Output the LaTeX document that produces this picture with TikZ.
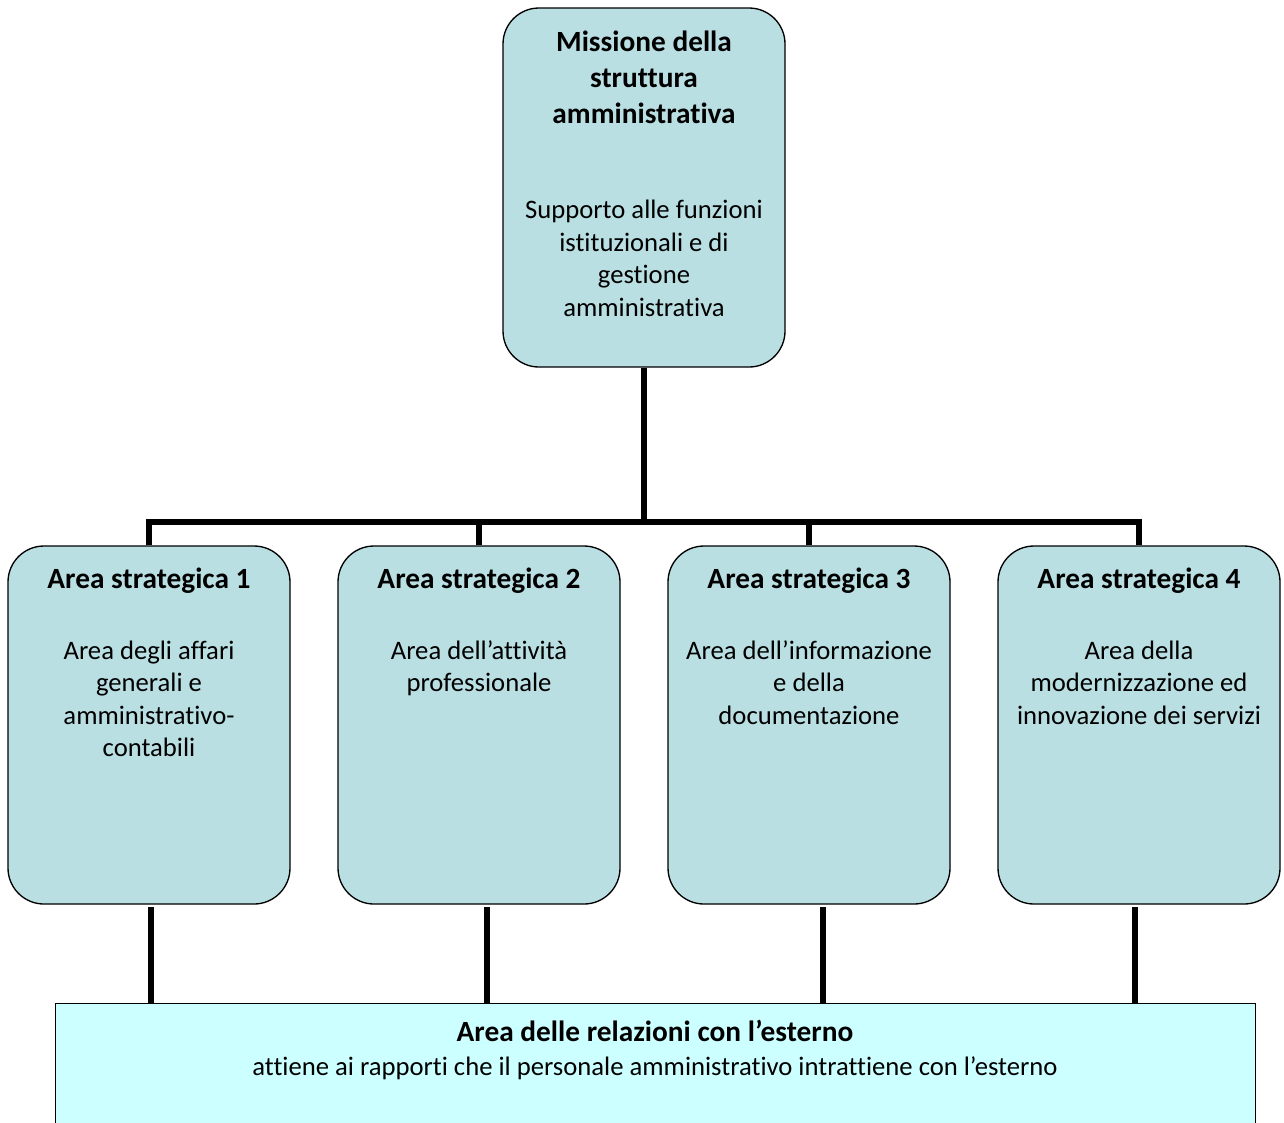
\documentclass[tikz,border=0pt]{standalone}
\usepackage{fontspec}
\setmainfont{Carlito}[Ligatures=NoCommon]
\usetikzlibrary{positioning}
\definecolor{boxfill}{RGB}{185,223,227}
\definecolor{extfill}{RGB}{204,255,255}

\begin{document}
\begin{tikzpicture}[x=1pt,y=1pt,node distance=35pt,
  area/.style={draw,line width=1pt,rounded corners=27pt,fill=boxfill,
    minimum width=211.5pt,minimum height=268.5pt},
  head/.style={font=\fontsize{22}{27}\selectfont\bfseries,align=center,inner sep=0pt},
  body/.style={font=\fontsize{20}{24.4}\selectfont,align=center,inner sep=0pt},
  link/.style={line width=4.5pt}]

\useasboundingbox (0,0) rectangle (963,-841.5);

% define the boxes
  \node[area, minimum height=269.25pt] (mis) at (483,-140.625) {};
  \node[area]   (a1)   at (111.75,-543.75) {};
  \node[area]   (a2)   [right=of a1] {};
  \node[area]   (a3)   [right=of a2] {};
  \node[area]   (a4)   [right=of a3] {};
  \node[draw, fill=extfill, line width=0.75pt, minimum width=900pt,
    minimum height=120pt, anchor=north] (ext) at (491.25,-752.25) {};

% define the texts
  \node[head, below=17.5pt of mis.north] (mist)
{Missione della\\struttura\\amministrativa};
  \node[body, below=144.5pt of mis.north] (misd)
{Supporto alle funzioni\\istituzionali e di\\gestione\\amministrativa};
  \node[head, anchor=base] (a1t) at ([yshift=-32.25pt]a1.north)
{Area strategica 1};
  \node[head, anchor=base] (a2t) at ([yshift=-32.25pt]a2.north)
{Area strategica 2};
  \node[head, anchor=base] (a3t) at ([yshift=-32.25pt]a3.north)
{Area strategica 3};
  \node[head, anchor=base] (a4t) at ([yshift=-32.25pt]a4.north)
{Area strategica 4};
  \node[body, below=71.25pt of a1.north] (a1d)
{Area degli affari\\generali e\\amministrativo-\\contabili};
  \node[body, below=71.25pt of a2.north] (a2d)
{Area dell’attività\\professionale};
  \node[body, below=71.25pt of a3.north] (a3d)
{Area dell’informazione\\e della\\documentazione};
  \node[body, below=71.25pt of a4.north] (a4d)
{Area della\\modernizzazione ed\\innovazione dei servizi};
  \node[head, anchor=base] (extt) at ([yshift=-28.5pt]ext.north)
{Area delle relazioni con l’esterno};
  \node[body, anchor=base] (extd) at ([yshift=-54pt]ext.north)
{attiene ai rapporti che il personale amministrativo intrattiene con l’esterno};

% define the links
  \coordinate (bus) at (483,-391.5);
  \draw[link] (mis.south) -- (bus);
  \draw[link] (a1.north) |- (bus) -| (a4.north);
  \draw[link] (a2.north) -- (a2.north |- bus);
  \draw[link] (a3.north) -- (a3.north |- bus);
  \draw[link, shorten <=2pt] ([xshift=1.5pt]a1.south) -- ([xshift=1.5pt]a1.south |- ext.north);
  \draw[link, shorten <=2pt] ([xshift=6pt]a2.south) -- ([xshift=6pt]a2.south |- ext.north);
  \draw[link, shorten <=2pt] ([xshift=10.5pt]a3.south) -- ([xshift=10.5pt]a3.south |- ext.north);
  \draw[link, shorten <=2pt] ([xshift=-3pt]a4.south) -- ([xshift=-3pt]a4.south |- ext.north);

\end{tikzpicture}
\end{document}
